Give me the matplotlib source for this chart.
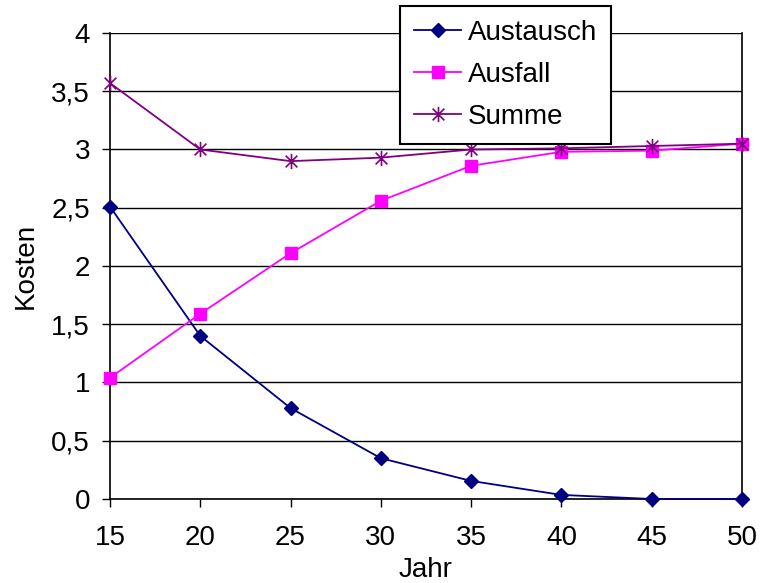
import matplotlib
matplotlib.use('Agg')
import matplotlib.pyplot as plt
from matplotlib.path import Path
from matplotlib.ticker import FuncFormatter
import numpy as np

plt.rcParams.update({
    'font.family': 'sans-serif',
    'font.sans-serif': ['Liberation Sans', 'DejaVu Sans'],
    'font.size': 20,
})

# ── Data ────────────────────────────────────────────────────
jahr = [15, 20, 25, 30, 35, 40, 45, 50]
austausch = [2.51, 1.40, 0.78, 0.35, 0.155, 0.035, 0.0, 0.0]
ausfall = [1.04, 1.59, 2.11, 2.56, 2.86, 2.98, 2.99, 3.05]
summe = [3.57, 3.00, 2.90, 2.93, 3.00, 3.01, 3.03, 3.05]
y_ticks = [0, 0.5, 1, 1.5, 2, 2.5, 3, 3.5, 4]

# Excel-style asterisk marker: X plus vertical bar
star = Path([(-1, -1), (1, 1), (-1, 1), (1, -1), (0, -1.3), (0, 1.3)],
            [Path.MOVETO, Path.LINETO, Path.MOVETO, Path.LINETO,
             Path.MOVETO, Path.LINETO])

fig = plt.figure(figsize=(7.6, 5.83), dpi=100)
ax = fig.add_axes([0.1447, 0.1441, 0.8316, 0.7993])

ax.plot(jahr, austausch, color='#000080', marker='D', markersize=7,
        linewidth=1.3, label='Austausch', clip_on=False, zorder=3)
ax.plot(jahr, ausfall, color='#FF00FF', marker='s', markersize=8,
        linewidth=1.3, label='Ausfall', clip_on=False, zorder=3)
ax.plot(jahr, summe, color='#800080', marker=star, markersize=11,
        markeredgewidth=1.2, linewidth=1.3, label='Summe', clip_on=False, zorder=3)

ax.set_xlim(15, 50)
ax.set_ylim(0, 4)
ax.set_xticks(jahr)
ax.set_yticks(y_ticks)
ax.yaxis.set_major_formatter(FuncFormatter(lambda v, p: f'{v:g}'.replace('.', ',')))
ax.yaxis.grid(True, color='black', linewidth=1.0)
ax.set_axisbelow(True)
ax.tick_params(direction='out', length=5.8, width=1.0, labelsize=20, color='black')
ax.tick_params(axis='x', pad=13)
ax.tick_params(axis='y', pad=8.5)
for s in ax.spines.values():
    s.set_linewidth(1.2)
    s.set_color('black')
ax.spines['top'].set_visible(False)

ax.set_xlabel('Jahr', fontsize=20, labelpad=4.5)
ax.set_ylabel('Kosten', fontsize=20, labelpad=9)

leg = ax.legend(loc='upper left', bbox_to_anchor=(0.459, 1.058), fontsize=20,
                frameon=True, fancybox=False, framealpha=1, edgecolor='black',
                borderpad=0.5, labelspacing=0.58, handlelength=1.7, handletextpad=0.25,
                borderaxespad=0)
leg.get_frame().set_linewidth(1.5)
leg.set_zorder(5)

fig.savefig('out.png', dpi=100)
